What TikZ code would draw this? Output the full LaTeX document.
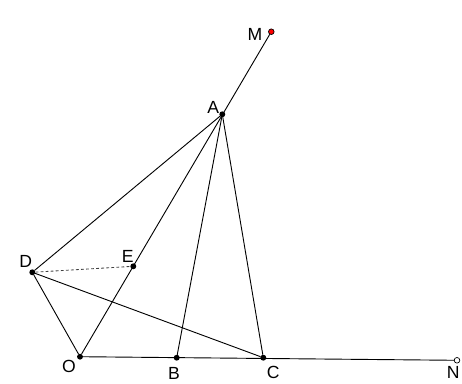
\documentclass[tikz,border=0pt]{standalone}
\usepackage{fontspec}
\setmainfont{Liberation Sans}
\usetikzlibrary{positioning}
\begin{document}
\begin{tikzpicture}[
    x=0.025cm, y=-0.025cm,
    every node/.style={font=\fontsize{12.5}{14}\selectfont, inner sep=0pt},
    dot/.style={circle, fill=black, minimum size=4.2pt},
    seg/.style={line width=0.65pt, line cap=round},
    dashseg/.style={line width=0.6pt, dash pattern=on 2pt off 1.6pt, black!75}
]
\useasboundingbox (0,0) rectangle (462,383);

% Points
\node[dot] (O) at (80,356.7) {};
\node[dot] (B) at (176.7,357.7) {};
\node[dot] (C) at (263.3,357.7) {};
\node[dot] (A) at (222.3,114.3) {};
\node[dot] (D) at (32.3,272.3) {};
\node[dot] (E) at (133.3,266.3) {};
\node[circle, draw, line width=0.5pt, fill=red, minimum size=4pt] (M) at (271.3,31.7) {};
\node[circle, draw, line width=0.5pt, fill=white, minimum size=4pt] (N) at (457,360.3) {};

% Rays
\draw[seg] (O) -- (M);
\draw[seg] (O) -- (N);

% Segments
\draw[seg] (A) -- (D);
\draw[seg] (A) -- (B);
\draw[seg] (A) -- (C);
\draw[seg] (D) -- (O);
\draw[seg] (D) -- (C);
\draw[dashseg] (D) -- (E);

% Labels
\node (lM) at (255,34.3) {M};
\node (lA) at (213.3,107.3) {A};
\node (lD) at (25.7,261.7) {D};
\node (lE) at (127.7,256.7) {E};
\node (lO) at (69,366.7) {O};
\node (lB) at (174,373.5) {B};
\node (lC) at (273.3,372.3) {C};
\node (lN) at (453.3,372.5) {N};
\end{tikzpicture}
\end{document}
